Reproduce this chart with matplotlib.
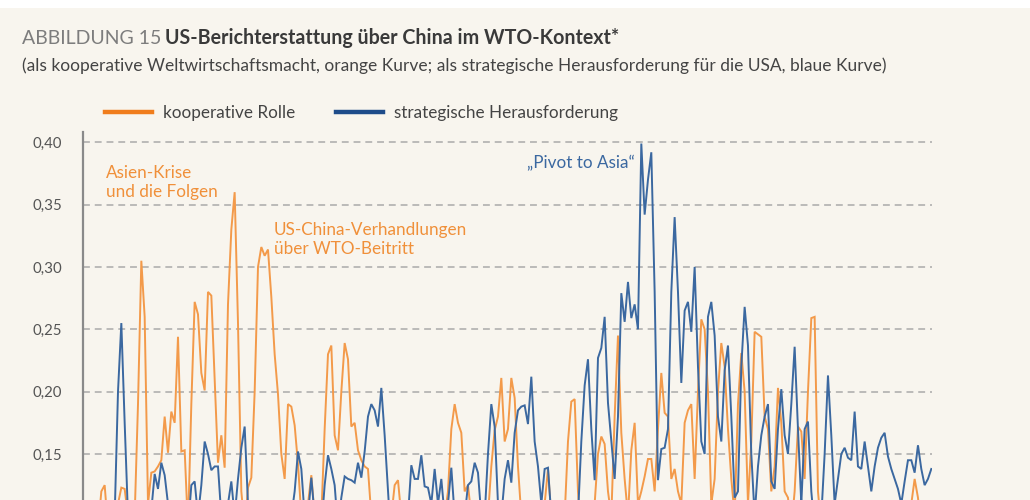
import matplotlib
matplotlib.use("Agg")
import matplotlib.pyplot as plt
from matplotlib.lines import Line2D
from matplotlib.patches import Rectangle
from matplotlib.ticker import FixedLocator, FuncFormatter

# ---------------- data (values below ~0.11 are not visible) ----------------
kooperativ = [
    0.09, 0.12, 0.125, 0.09, 0.08, 0.09, 0.11, 0.123, 0.122, 0.10,   # 0-9
    0.09, 0.10, 0.19, 0.305, 0.26, 0.11, 0.135, 0.136, 0.14, 0.145,  # 10-19
    0.18, 0.151, 0.184, 0.175, 0.244, 0.152, 0.153, 0.09, 0.19, 0.272,  # 20-29
    0.262, 0.215, 0.201, 0.280, 0.277, 0.21, 0.143, 0.165, 0.139, 0.27,  # 30-39
    0.33, 0.360, 0.255, 0.12, 0.09, 0.123, 0.131, 0.20, 0.300, 0.316,  # 40-49
    0.309, 0.314, 0.276, 0.230, 0.198, 0.150, 0.13, 0.19, 0.188, 0.173,  # 50-59
    0.142, 0.10, 0.09, 0.11, 0.133, 0.10, 0.08, 0.10, 0.17, 0.230,  # 60-69
    0.237, 0.165, 0.153, 0.20, 0.239, 0.226, 0.172, 0.175, 0.153, 0.145,  # 70-79
    0.140, 0.138, 0.10, 0.08, 0.08, 0.07, 0.08, 0.09, 0.10, 0.125,  # 80-89
    0.129, 0.10, 0.08, 0.07, 0.06, 0.07, 0.08, 0.07, 0.06, 0.07,  # 90-99
    0.08, 0.07, 0.08, 0.09, 0.10, 0.12, 0.17, 0.190, 0.175, 0.167,  # 100-109
    0.12, 0.125, 0.10, 0.08, 0.07, 0.08, 0.09, 0.10, 0.14, 0.169,  # 110-119
    0.180, 0.211, 0.16, 0.17, 0.211, 0.195, 0.14, 0.10, 0.08, 0.07,  # 120-129
    0.06, 0.07, 0.08, 0.09, 0.11, 0.138, 0.10, 0.08, 0.07, 0.08,  # 130-139
    0.10, 0.16, 0.192, 0.194, 0.12, 0.08, 0.07, 0.08, 0.09, 0.11,  # 140-149
    0.15, 0.164, 0.158, 0.12, 0.10, 0.18, 0.245, 0.167, 0.13, 0.10,  # 150-159
    0.153, 0.175, 0.11, 0.12, 0.132, 0.146, 0.146, 0.12, 0.17, 0.215,  # 160-169
    0.183, 0.180, 0.13, 0.138, 0.12, 0.11, 0.175, 0.185, 0.190, 0.13,  # 170-179
    0.20, 0.258, 0.250, 0.20, 0.11, 0.13, 0.20, 0.239, 0.22, 0.17,  # 180-189
    0.13, 0.10, 0.19, 0.231, 0.20, 0.11, 0.16, 0.248, 0.246, 0.244,  # 190-199
    0.180, 0.170, 0.12, 0.14, 0.203, 0.175, 0.12, 0.115, 0.09, 0.12,  # 200-209
    0.172, 0.168, 0.13, 0.20, 0.259, 0.260, 0.12, 0.09, 0.08, 0.07,  # 210-219
    0.06, 0.07, 0.08, 0.07, 0.06, 0.07, 0.08, 0.09, 0.08, 0.07,  # 220-229
    0.06, 0.07, 0.08, 0.09, 0.10, 0.09, 0.08, 0.07, 0.06, 0.07,  # 230-239
    0.08, 0.09, 0.08, 0.09, 0.11, 0.130, 0.115, 0.09, 0.08, 0.07,  # 240-249
    0.07,                                                            # 250
]

strategisch = [
    0.05, 0.06, 0.06, 0.07, 0.06, 0.10, 0.20, 0.255, 0.175, 0.10,   # 0-9
    0.07, 0.06, 0.07, 0.08, 0.07, 0.08, 0.105, 0.134, 0.122, 0.143,  # 10-19
    0.133, 0.11, 0.08, 0.07, 0.08, 0.07, 0.08, 0.09, 0.125, 0.128,  # 20-29
    0.10, 0.125, 0.160, 0.150, 0.137, 0.140, 0.140, 0.10, 0.09, 0.11,  # 30-39
    0.128, 0.10, 0.13, 0.155, 0.172, 0.11, 0.08, 0.07, 0.06, 0.07,  # 40-49
    0.08, 0.07, 0.06, 0.07, 0.08, 0.07, 0.08, 0.09, 0.10, 0.12,  # 50-59
    0.152, 0.138, 0.10, 0.10, 0.131, 0.10, 0.08, 0.09, 0.125, 0.149,  # 60-69
    0.138, 0.125, 0.09, 0.115, 0.132, 0.130, 0.129, 0.127, 0.143, 0.131,  # 70-79
    0.152, 0.180, 0.190, 0.185, 0.172, 0.203, 0.165, 0.12, 0.08, 0.07,  # 80-89
    0.08, 0.07, 0.08, 0.10, 0.141, 0.130, 0.130, 0.149, 0.124, 0.123,  # 90-99
    0.11, 0.138, 0.11, 0.130, 0.10, 0.11, 0.139, 0.10, 0.08, 0.09,  # 100-109
    0.10, 0.125, 0.128, 0.143, 0.135, 0.10, 0.10, 0.15, 0.190, 0.172,  # 110-119
    0.11, 0.10, 0.13, 0.145, 0.127, 0.167, 0.185, 0.188, 0.189, 0.174,  # 120-129
    0.212, 0.16, 0.14, 0.11, 0.138, 0.139, 0.10, 0.08, 0.07, 0.06,  # 130-139
    0.07, 0.08, 0.07, 0.08, 0.10, 0.16, 0.205, 0.226, 0.17, 0.129,  # 140-149
    0.227, 0.235, 0.260, 0.191, 0.16, 0.130, 0.18, 0.279, 0.256, 0.288,  # 150-159
    0.259, 0.270, 0.250, 0.399, 0.342, 0.37, 0.392, 0.28, 0.129, 0.154,  # 160-169
    0.155, 0.17, 0.28, 0.340, 0.28, 0.207, 0.265, 0.272, 0.248, 0.300,  # 170-179
    0.22, 0.16, 0.150, 0.26, 0.272, 0.245, 0.18, 0.16, 0.217, 0.237,  # 180-189
    0.18, 0.115, 0.12, 0.22, 0.268, 0.237, 0.15, 0.10, 0.14, 0.165,  # 190-199
    0.180, 0.190, 0.128, 0.122, 0.17, 0.202, 0.165, 0.150, 0.19, 0.236,  # 200-209
    0.17, 0.11, 0.170, 0.176, 0.12, 0.09, 0.08, 0.10, 0.15, 0.213,  # 210-219
    0.165, 0.11, 0.13, 0.150, 0.155, 0.147, 0.145, 0.184, 0.140, 0.138,  # 220-229
    0.160, 0.140, 0.120, 0.140, 0.155, 0.163, 0.167, 0.148, 0.138, 0.130,  # 230-239
    0.122, 0.11, 0.128, 0.145, 0.145, 0.135, 0.157, 0.138, 0.125, 0.130,  # 240-249
    0.138,                                                            # 250
]

monat = list(range(len(strategisch)))
y_ticks = [0.15, 0.20, 0.25, 0.30, 0.35, 0.40]

title_prefix = "ABBILDUNG 15"
title_main = "US-Berichterstattung über China im WTO-Kontext*"
subtitle = ("(als kooperative Weltwirtschaftsmacht, orange Kurve; als strategische "
            "Herausforderung für die USA, blaue Kurve)")
label_koop = "kooperative Rolle"
label_strat = "strategische Herausforderung"
annot_asien = "Asien-Krise\nund die Folgen"
annot_wto = "US-China-Verhandlungen\nüber WTO-Beitritt"
annot_pivot = "„Pivot to Asia“"

# ---------------- style ----------------
W, H = 1030, 500
BG = "#f8f5ee"
ORANGE = "#f39a4a"
BLUE = "#3b68a0"
ORANGE_LEG = "#f07d1c"
BLUE_LEG = "#1e4c8a"
plt.rcParams["font.family"] = ["Lato", "DejaVu Sans"]

fig = plt.figure(figsize=(W / 100, H / 100), dpi=100)
fig.patch.set_facecolor(BG)
fig.patches.append(Rectangle((0, 1 - 8 / H), 1, 8 / H, transform=fig.transFigure,
                             facecolor="white", edgecolor="none", zorder=0))

def fx(x):
    return x / W

def fy(y):
    return 1 - y / H

# axes geometry in pixels: left spine 83, right 931, top 131.7, value 0 at y=641
px_top, px_zero = 131.7, 641.0
ax_left, ax_right = 83, 931.5
ax = fig.add_axes([fx(ax_left), fy(px_zero), fx(ax_right - ax_left), (px_zero - px_top) / H])
ax.set_facecolor("none")
ytop = 0.40 + (142.3 - px_top) / ((px_zero - 142.3) / 0.40)
ax.set_ylim(0, ytop)
ax.set_xlim(-(98 - ax_left) / 3.3333, len(monat) - 1 + (ax_right - 931.3) / 3.3333)

ax.plot(monat, kooperativ, color=ORANGE, lw=1.4, solid_joinstyle="miter", zorder=3)
ax.plot(monat, strategisch, color=BLUE, lw=1.4, solid_joinstyle="miter", zorder=4)

ax.yaxis.set_major_locator(FixedLocator(y_ticks))
ax.yaxis.set_major_formatter(FuncFormatter(lambda v, p: f"{v:.2f}".replace(".", ",")))
ax.set_xticks([])
ax.tick_params(axis="y", length=0, pad=15, labelsize=10.8, labelcolor="#555555")
ax.grid(axis="y", color="#aaaaaa", lw=1.1, linestyle=(0, (4.5, 3.2)), zorder=1)
for s in ("top", "right", "bottom"):
    ax.spines[s].set_visible(False)
ax.spines["left"].set_color("#8a8a8a")
ax.spines["left"].set_linewidth(1.6)

# ---------------- titles ----------------
fig.text(fx(22), fy(44), title_prefix, fontsize=14.0, color="#7d7d7d",
         fontweight="normal", va="baseline", ha="left")
fig.text(fx(165), fy(44), title_main, fontsize=14.1, color="#3a3a3a",
         fontweight="bold", va="baseline", ha="left")
fig.text(fx(22), fy(71), subtitle, fontsize=12.5, color="#444444",
         va="baseline", ha="left")

# ---------------- legend ----------------
handles = [Line2D([], [], color=ORANGE_LEG, lw=3.2),
           Line2D([], [], color=BLUE_LEG, lw=3.2)]
fig.legend(handles, [label_koop, label_strat], loc="center left",
           bbox_to_anchor=(fx(105), fy(113)), ncol=2, frameon=False,
           fontsize=12.3, labelcolor="#444444", handlelength=2.75,
           handletextpad=0.65, columnspacing=2.4, borderpad=0, borderaxespad=0)

# ---------------- annotations (baseline = last line) ----------------
fig.text(fx(106), fy(197), annot_asien, fontsize=12.3, color="#f0903a",
         va="baseline", ha="left", linespacing=1.2)
fig.text(fx(274), fy(254), annot_wto, fontsize=12.3, color="#f0903a",
         va="baseline", ha="left", linespacing=1.2)
fig.text(fx(527), fy(168), annot_pivot, fontsize=12.3, color=BLUE,
         va="baseline", ha="left")

fig.savefig("out.png", dpi=100, facecolor=fig.get_facecolor())
